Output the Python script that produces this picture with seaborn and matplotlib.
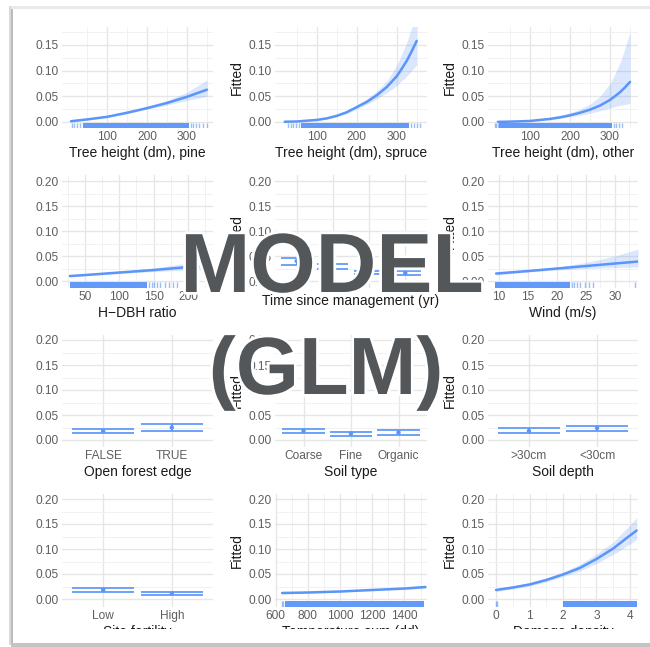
import matplotlib
matplotlib.use("Agg")
import matplotlib.pyplot as plt
import seaborn as sns
from matplotlib.patches import Rectangle
from matplotlib.ticker import FixedLocator
import matplotlib.patheffects as pe

sns.set_style("white")
plt.rcParams['font.family'] = ['Liberation Sans', 'DejaVu Sans']

# ---------------- data ----------------
# Row 1: tree height
pine_x = [10, 50, 100, 150, 200, 250, 300, 350]
pine_fit = [0.0015, 0.005, 0.010, 0.018, 0.027, 0.037, 0.049, 0.063]
pine_lo = [0.001, 0.004, 0.009, 0.016, 0.025, 0.033, 0.042, 0.050]
pine_hi = [0.002, 0.006, 0.011, 0.020, 0.030, 0.042, 0.058, 0.082]
pine_rug_spans = [(40, 305)]
pine_rug_ticks = [13, 18, 25, 32, 310, 316, 322, 330, 340, 350]

spruce_x = [20, 50, 100, 125, 150, 175, 200, 225, 250, 275, 300, 312, 325, 337, 350]
spruce_fit = [0.0005, 0.001, 0.004, 0.007, 0.012, 0.019, 0.029, 0.039, 0.052, 0.068,
              0.089, 0.103, 0.119, 0.137, 0.158]
spruce_lo = [0.0003, 0.0008, 0.003, 0.006, 0.010, 0.016, 0.025, 0.034, 0.045, 0.057,
             0.071, 0.080, 0.089, 0.100, 0.111]
spruce_hi = [0.0008, 0.0015, 0.005, 0.009, 0.014, 0.022, 0.033, 0.045, 0.060, 0.080,
             0.110, 0.131, 0.155, 0.183, 0.215]
spruce_rug_spans = [(60, 330)]
spruce_rug_ticks = [28, 35, 40, 48, 55, 335, 342, 350, 358]

other_x = [20, 50, 100, 150, 175, 200, 225, 250, 275, 300, 312, 325, 337, 350]
other_fit = [0.0003, 0.0007, 0.002, 0.006, 0.009, 0.013, 0.018, 0.024, 0.032, 0.043,
             0.050, 0.058, 0.067, 0.078]
other_lo = [0.0001, 0.0004, 0.0012, 0.004, 0.007, 0.010, 0.013, 0.017, 0.022, 0.027,
            0.030, 0.032, 0.034, 0.036]
other_hi = [0.0008, 0.0014, 0.004, 0.009, 0.013, 0.018, 0.025, 0.035, 0.050, 0.075,
            0.093, 0.115, 0.142, 0.175]
other_rug_spans = [(22, 305)]
other_rug_ticks = [12, 16, 20, 310, 315, 322, 330]

# Row 2
hdbh_x = [28, 50, 100, 150, 200, 235]
hdbh_fit = [0.010, 0.012, 0.017, 0.022, 0.028, 0.032]
hdbh_lo = [0.008, 0.011, 0.015, 0.019, 0.022, 0.023]
hdbh_hi = [0.012, 0.014, 0.019, 0.026, 0.036, 0.044]
hdbh_rug_spans = [(28, 140)]
hdbh_rug_ticks = [143, 147, 151, 155, 160, 166, 172, 178, 184, 200]

tsm_levels = ["1", "2", "3", "4"]
tsm_fit = [0.040, 0.029, 0.017, 0.016]
tsm_lo = [0.032, 0.024, 0.015, 0.012]
tsm_hi = [0.047, 0.035, 0.020, 0.021]

wind_x = [9.5, 15, 20, 25, 30, 34]
wind_fit = [0.015, 0.020, 0.025, 0.030, 0.035, 0.039]
wind_lo = [0.012, 0.018, 0.022, 0.025, 0.027, 0.028]
wind_hi = [0.018, 0.022, 0.028, 0.037, 0.050, 0.064]
wind_rug_spans = [(9.3, 22.2)]
wind_rug_ticks = [22.6, 23.0, 23.5, 24.0, 24.8, 25.5, 26.2, 33.4]

# Row 3
ofe_levels = ["FALSE", "TRUE"]
ofe_fit = [0.018, 0.025]
ofe_lo = [0.0145, 0.019]
ofe_hi = [0.022, 0.032]

soil_levels = ["Coarse", "Fine", "Organic"]
soil_fit = [0.0185, 0.013, 0.015]
soil_lo = [0.0145, 0.008, 0.0095]
soil_hi = [0.0225, 0.017, 0.020]

depth_levels = [">30cm", "<30cm"]
depth_fit = [0.018, 0.024]
depth_lo = [0.0145, 0.018]
depth_hi = [0.0235, 0.029]

# Row 4
fert_levels = ["Low", "High"]
fert_fit = [0.018, 0.011]
fert_lo = [0.0145, 0.008]
fert_hi = [0.0215, 0.014]

temp_x = [640, 800, 1000, 1200, 1400, 1530]
temp_fit = [0.012, 0.013, 0.015, 0.018, 0.021, 0.024]
temp_lo = [0.010, 0.012, 0.014, 0.017, 0.019, 0.021]
temp_hi = [0.014, 0.015, 0.016, 0.019, 0.023, 0.027]
temp_rug_spans = [(655, 1520)]
temp_rug_ticks = [640, 645]

dmg_x = [0, 0.5, 1, 1.5, 2, 2.5, 3, 3.5, 4, 4.2]
dmg_fit = [0.018, 0.023, 0.029, 0.038, 0.049, 0.062, 0.080, 0.101, 0.127, 0.137]
dmg_lo = [0.015, 0.020, 0.026, 0.034, 0.045, 0.056, 0.071, 0.089, 0.110, 0.119]
dmg_hi = [0.021, 0.026, 0.033, 0.042, 0.054, 0.069, 0.090, 0.114, 0.148, 0.163]
dmg_rug_spans = [(2.0, 4.2)]
dmg_rug_ticks = [0.0, 0.02]

# ---------------- figure ----------------
W, H = 650, 647
fig = plt.figure(figsize=(6.5, 6.47), dpi=100)
fig.patch.set_facecolor("white")

BLUE = "#5b95f9"
CAP = "#6ea1f8"
GRID = "#e6e6e6"
GRID_MINOR = "#f1f1f1"

cols = [(62, 213), (275, 427), (488, 638)]
rows = [(27, 128), (175, 288), (335, 447), (494, 607)]
ylims = [(-0.0117, 0.185), (-0.0139, 0.212), (-0.014, 0.21), (-0.016, 0.21)]


def make_ax(r, c):
    l, rr = cols[c]
    t, b = rows[r]
    return fig.add_axes([l / W, 1 - b / H, (rr - l) / W, (b - t) / H])


def style(ax, r, c, xlim, xmaj, xlabels, xminor, xlabel):
    ax.set_facecolor("white")
    ax.set_xlim(*xlim)
    ax.set_ylim(*ylims[r])
    if r == 0:
        ymaj = [0.0, 0.05, 0.10, 0.15]
    else:
        ymaj = [0.0, 0.05, 0.10, 0.15, 0.20]
    ax.set_yticks(ymaj)
    ax.set_yticklabels([f"{v:.2f}" for v in ymaj])
    ax.yaxis.set_minor_locator(FixedLocator([0.025, 0.075, 0.125, 0.175]))
    ax.set_xticks(xmaj)
    ax.set_xticklabels(xlabels)
    if xminor:
        ax.xaxis.set_minor_locator(FixedLocator(xminor))
    ax.grid(True, which="major", color=GRID, lw=1.0)
    ax.grid(True, which="minor", color=GRID_MINOR, lw=0.7)
    ax.set_axisbelow(True)
    ax.tick_params(which="both", length=0, labelsize=8.6, labelcolor="#5e5e5e", pad=2.5)
    for s in ax.spines.values():
        s.set_visible(False)
    ax.set_xlabel(xlabel, fontsize=10, color="#1a1a1a", labelpad=2)
    if c > 0:
        ax.set_ylabel("Fitted", fontsize=10, color="#1a1a1a", labelpad=3)
    else:
        ax.set_ylabel("")


def cont_panel(ax, x, fit, lo, hi, spans, ticks):
    ax.fill_between(x, lo, hi, color=BLUE, alpha=0.22, lw=0)
    sns.lineplot(x=x, y=fit, ax=ax, color=BLUE, lw=1.8)
    for a, b in spans:
        ax.axvspan(a, b, ymin=0.0, ymax=0.05, color=BLUE, lw=0, alpha=0.95)
    sns.rugplot(x=ticks, ax=ax, height=0.05, color=BLUE, lw=0.8, alpha=0.6)


def cat_panel(ax, levels, fit, lo, hi, w=0.45):
    pos = list(range(len(levels)))
    ax.hlines(lo, [p - w for p in pos], [p + w for p in pos], color=CAP, lw=1.4)
    ax.hlines(hi, [p - w for p in pos], [p + w for p in pos], color=CAP, lw=1.4)
    ax.vlines(pos, lo, hi, color=BLUE, lw=1.4)
    sns.scatterplot(x=pos, y=fit, ax=ax, color=BLUE, s=10, edgecolor="none", zorder=5)


# Row 1
ax = make_ax(0, 0)
cont_panel(ax, pine_x, pine_fit, pine_lo, pine_hi, pine_rug_spans, pine_rug_ticks)
style(ax, 0, 0, (-12.5, 365), [100, 200, 300], ["100", "200", "300"], [50, 150, 250, 350],
      "Tree height (dm), pine")

ax = make_ax(0, 1)
cont_panel(ax, spruce_x, spruce_fit, spruce_lo, spruce_hi, spruce_rug_spans, spruce_rug_ticks)
style(ax, 0, 1, (-4.3, 375.7), [100, 200, 300], ["100", "200", "300"], [50, 150, 250, 350],
      "Tree height (dm), spruce")

ax = make_ax(0, 2)
cont_panel(ax, other_x, other_fit, other_lo, other_hi, other_rug_spans, other_rug_ticks)
style(ax, 0, 2, (-5, 370), [100, 200, 300], ["100", "200", "300"], [50, 150, 250, 350],
      "Tree height (dm), other")

# Row 2
ax = make_ax(1, 0)
cont_panel(ax, hdbh_x, hdbh_fit, hdbh_lo, hdbh_hi, hdbh_rug_spans, hdbh_rug_ticks)
style(ax, 1, 0, (16.5, 236.6), [50, 100, 150, 200], ["50", "100", "150", "200"],
      [25, 75, 125, 175, 225], "H\u2212DBH ratio")

ax = make_ax(1, 1)
cat_panel(ax, tsm_levels, tsm_fit, tsm_lo, tsm_hi, w=0.43)
style(ax, 1, 1, (-0.6, 3.6), [0, 1, 2, 3], ["", "", "", ""], None,
      "Time since management (yr)")

ax = make_ax(1, 2)
cont_panel(ax, wind_x, wind_fit, wind_lo, wind_hi, wind_rug_spans, wind_rug_ticks)
style(ax, 1, 2, (8.1, 34.0), [10, 15, 20, 25, 30], ["10", "15", "20", "25", "30"],
      [12.5, 17.5, 22.5, 27.5, 32.5], "Wind (m/s)")

# Row 3
ax = make_ax(2, 0)
cat_panel(ax, ofe_levels, ofe_fit, ofe_lo, ofe_hi)
style(ax, 2, 0, (-0.6, 1.6), [0, 1], ofe_levels, None, "Open forest edge")

ax = make_ax(2, 1)
cat_panel(ax, soil_levels, soil_fit, soil_lo, soil_hi)
style(ax, 2, 1, (-0.6, 2.6), [0, 1, 2], soil_levels, None, "Soil type")

ax = make_ax(2, 2)
cat_panel(ax, depth_levels, depth_fit, depth_lo, depth_hi)
style(ax, 2, 2, (-0.6, 1.6), [0, 1], depth_levels, None, "Soil depth")

# Row 4
ax = make_ax(3, 0)
cat_panel(ax, fert_levels, fert_fit, fert_lo, fert_hi)
style(ax, 3, 0, (-0.6, 1.6), [0, 1], fert_levels, None, "Site fertility")

ax = make_ax(3, 1)
cont_panel(ax, temp_x, temp_fit, temp_lo, temp_hi, temp_rug_spans, temp_rug_ticks)
style(ax, 3, 1, (596, 1540), [600, 800, 1000, 1200, 1400],
      ["600", "800", "1000", "1200", "1400"], [700, 900, 1100, 1300, 1500],
      "Temperature sum (dd)")

ax = make_ax(3, 2)
cont_panel(ax, dmg_x, dmg_fit, dmg_lo, dmg_hi, dmg_rug_spans, dmg_rug_ticks)
style(ax, 3, 2, (-0.24, 4.24), [0, 1, 2, 3, 4], ["0", "1", "2", "3", "4"],
      [0.5, 1.5, 2.5, 3.5], "Damage density")


# ---------------- card frame ----------------
def rect_px(x0, y0, x1, y1, color, z=50):
    fig.add_artist(Rectangle((x0 / W, 1 - y1 / H), (x1 - x0) / W, (y1 - y0) / H,
                             transform=fig.transFigure, color=color, lw=0, zorder=z))

rect_px(0, 0, W, 6, "white")
rect_px(0, 6, W, 9, "#e9e9e9")
rect_px(0, 0, 9, H, "white")
rect_px(9, 6, 11, 645, "#d9d9d9")
rect_px(11, 9, 13, 643, "#bdbdbd")
rect_px(13, 629, W, 643, "white")
rect_px(11, 643, W, 647, "#c4c4c4")

# ---------------- overlay title ----------------
stroke = [pe.withStroke(linewidth=4, foreground="white")]
fig.text(332 / W, 1 - 292 / H, "MODEL", fontsize=60.5, fontweight="bold",
         color="#54575a", ha="center", va="baseline", zorder=60,
         path_effects=stroke, family=["Liberation Sans", "DejaVu Sans"])
fig.text(326 / W, 1 - 394 / H, "(GLM)", fontsize=58.5, fontweight="bold",
         color="#54575a", ha="center", va="baseline", zorder=60,
         path_effects=stroke, family=["Liberation Sans", "DejaVu Sans"])

fig.savefig("out.png", dpi=100, facecolor="white")
